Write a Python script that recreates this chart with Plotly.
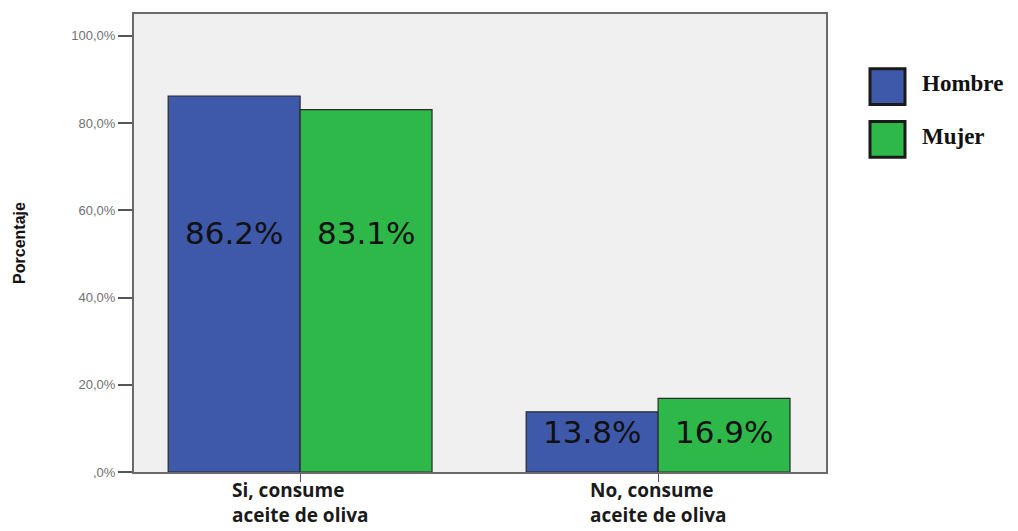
import plotly.graph_objects as go

categories = ["Si, consume<br>aceite de oliva", "No, consume<br>aceite de oliva"]
series_names = ["Hombre", "Mujer"]
hombre = [86.2, 13.8]
mujer = [83.1, 16.9]
colors = ["#3e58aa", "#2eb84a"]
y_tickvals = [0, 20, 40, 60, 80, 100]
y_ticktext = [",0%", "20,0%", "40,0%", "60,0%", "80,0%", "100,0%"]

x_idx = list(range(len(categories)))

fig = go.Figure()
for name, vals, col in zip(series_names, [hombre, mujer], colors):
    fig.add_trace(go.Bar(
        name=name, x=x_idx, y=vals,
        marker=dict(color=col, line=dict(color="#2a2a2a", width=1.2)),
        showlegend=False,
    ))

fig.update_layout(
    width=1018, height=531,
    margin=dict(l=134, r=192, t=12, b=59),
    paper_bgcolor="white", plot_bgcolor="#f0f0f0",
    barmode="group", bargap=0.263, bargroupgap=0,
)

fig.update_xaxes(
    range=[-0.464, 1.469], tickvals=x_idx, ticktext=["", ""],
    ticks="outside", ticklen=8, tickcolor="#555",
    showline=True, linecolor="#6a6a6a", linewidth=2, mirror=True,
    showgrid=False, zeroline=False,
)
fig.update_yaxes(
    range=[0, 105], tickvals=y_tickvals, ticktext=y_ticktext,
    ticks="outside", ticklen=14, tickcolor="#555", tickwidth=1.5,
    tickfont=dict(family="Liberation Sans, Arial", size=13, color="#707070"),
    showline=True, linecolor="#6a6a6a", linewidth=2, mirror=True,
    showgrid=False, zeroline=False,
    title=dict(text="<b>Porcentaje</b>", standoff=42,
               font=dict(family="Liberation Sans Narrow, Arial Narrow, Liberation Sans", size=16, color="#111")),
)

# value labels inside bars (shared height per category)
offsets = [-0.184, 0.184]
label_y = [min(h, m) * 0.66 for h, m in zip(hombre, mujer)]
for off, vals in zip(offsets, [hombre, mujer]):
    for xi, v, ly in zip(x_idx, vals, label_y):
        fig.add_annotation(
            x=xi + off, y=ly, xref="x", yref="y",
            text=f"{v:.1f}%", showarrow=False,
            font=dict(family="DejaVu Sans", size=31, color="#111"),
        )

# category labels
for xi, cat in zip(x_idx, categories):
    fig.add_annotation(
        x=xi, y=-0.006, xref="x", yref="paper", yanchor="top",
        text=f"<b>{cat}</b>", showarrow=False, align="left",
        font=dict(family="Open Sans", size=19, color="#1a1a1a"),
    )

# legend drawn manually
for i, (name, col) in enumerate(zip(series_names, colors)):
    y0 = 531 - 67 - i * 53
    fig.add_shape(
        type="rect", xref="paper", yref="paper",
        x0=(870 - 134) / 692, x1=(905 - 134) / 692,
        y0=(y0 - 36 - 59) / 460, y1=(y0 - 59) / 460,
        fillcolor=col, line=dict(color="#1a1a1a", width=3),
    )
    fig.add_annotation(
        x=(920 - 134) / 692, y=(y0 - 15 - 59) / 460, xref="paper", yref="paper",
        xanchor="left", yanchor="middle", text=f"<b>{name}</b>", showarrow=False,
        font=dict(family="Liberation Serif, Times New Roman", size=23, color="#111"),
    )

fig.write_html("out.html")
